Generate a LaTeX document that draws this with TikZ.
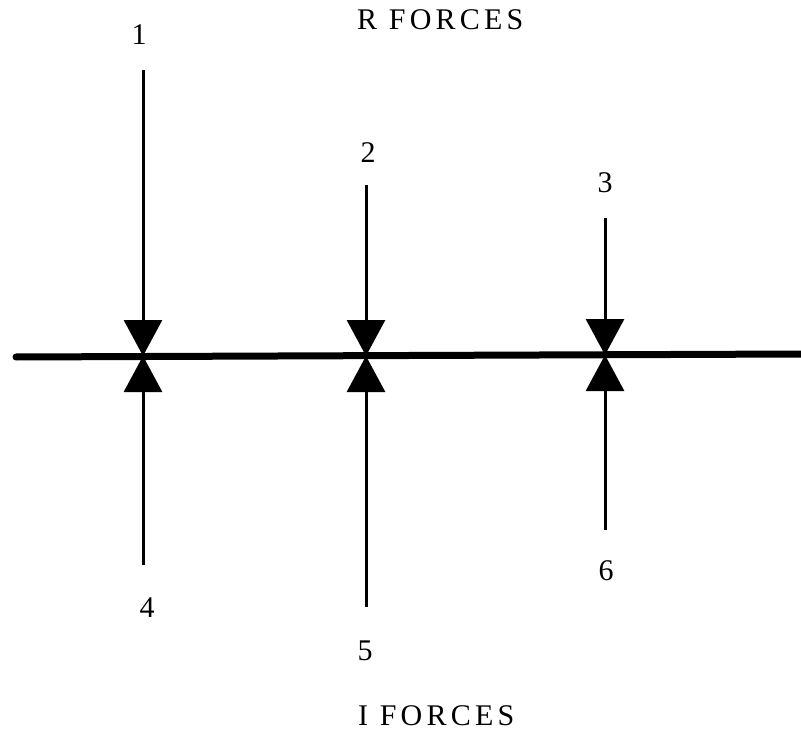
\documentclass[tikz,border=0pt]{standalone}
\usepackage{fontspec}
\setmainfont{Liberation Serif}
\usetikzlibrary{arrows.meta}
\tikzset{
  force/.style={line width=3pt, -{Triangle[width=38pt,length=36pt]}},
  beam/.style={line width=7pt, line cap=round},
  num/.style={font=\fontsize{30}{34}\selectfont, inner sep=0pt, anchor=base},
  title/.style={font=\fontsize{30}{32}\selectfont\addfontfeature{LetterSpace=14}, inner sep=0pt, text depth=0pt, anchor=base west}
}
\begin{document}
\begin{tikzpicture}[x=1pt,y=-1pt]
\useasboundingbox (0,0) rectangle (801,730);
\fill[white] (0,0) rectangle (801,730);
% beam
\coordinate (L) at (16,357);
\coordinate (R) at (801,354);
\draw[beam] (L) -- (R);
% junctions
\coordinate (j1) at (143,356);
\coordinate (j2) at (366,356);
\coordinate (j3) at (605,355);
% free ends
\coordinate (t1) at (143,70);
\coordinate (t2) at (366,185);
\coordinate (t3) at (605,218);
\coordinate (b4) at (143,565);
\coordinate (b5) at (366,607);
\coordinate (b6) at (605,530);
\draw[force] (t1) -- (j1);
\draw[force] (t2) -- (j2);
\draw[force] (t3) -- (j3);
\draw[force] (b4) -- (j1);
\draw[force] (b5) -- (j2);
\draw[force] (b6) -- (j3);
% labels
\node[num] (n1) at (139,45) {1};
\node[num] (n2) at (368,163) {2};
\node[num] (n3) at (605,193) {3};
\node[num] (n4) at (147,617) {4};
\node[num] (n5) at (365,660) {5};
\node[num] (n6) at (606,580) {6};
\node[title] (rf) at (357,30) {R FORCES};
\node[title] (if) at (358,725) {I FORCES};
\end{tikzpicture}
\end{document}
